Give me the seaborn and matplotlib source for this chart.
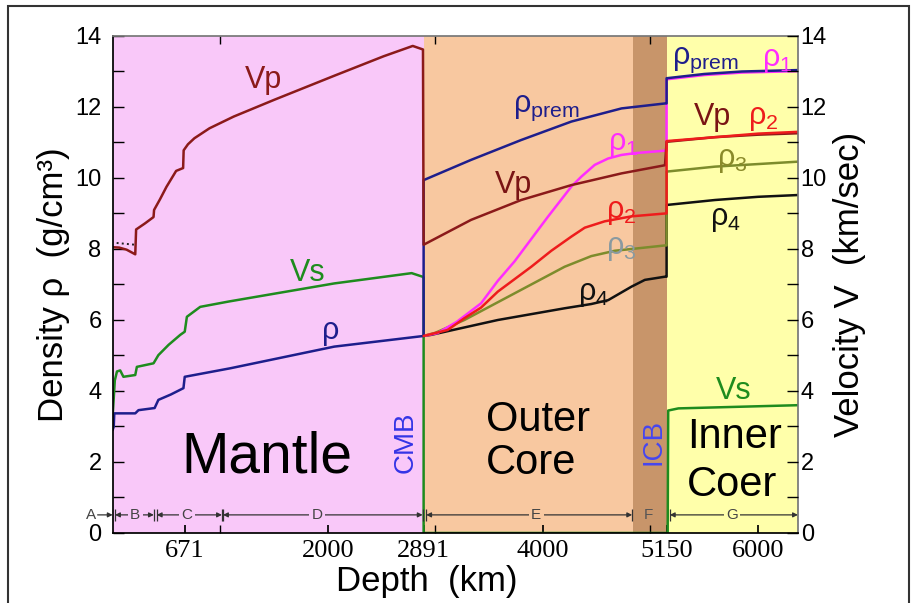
import matplotlib
matplotlib.use('Agg')
import matplotlib.pyplot as plt
import matplotlib.patches as mpatches
import pandas as pd
import seaborn as sns

# profiles, depth in km, density in g/cm3, velocity in km/s
vp_depth = [0, 60, 130, 210, 218, 300, 380, 385, 440, 500, 550, 590, 655, 660, 700, 760, 900,
            1125, 1500, 2060, 2520, 2790, 2885, 2891, 3332, 3798, 4265, 4731, 5135, 5150,
            5600, 6000, 6371]
vp_value = [8.05, 8.04, 7.98, 7.85, 8.55, 8.72, 8.9, 9.1, 9.4, 9.75, 10.0, 10.2, 10.28, 10.78,
            10.95, 11.12, 11.4, 11.73, 12.2, 12.88, 13.43, 13.72, 13.62, 8.12, 8.82, 9.38, 9.8,
            10.13, 10.36, 11.02, 11.15, 11.22, 11.26]

vs_depth = [0, 20, 40, 70, 100, 210, 225, 380, 425, 520, 628, 670, 690, 814, 1078, 2060, 2780,
            2880, 2891, 2891, 5160, 5165, 5260, 6371]
vs_value = [3.3, 4.3, 4.55, 4.58, 4.4, 4.45, 4.68, 4.78, 5.01, 5.3, 5.58, 5.67, 6.09, 6.37, 6.52,
            7.03, 7.32, 7.22, 7.2, 0.0, 0.0, 3.45, 3.51, 3.6]

rho_prem_depth = [0, 10, 15, 210, 240, 390, 425, 540, 658, 670, 1094, 2060, 2891, 2891, 3332,
                  3798, 4265, 4731, 5135, 5150, 5150, 5500, 5850, 6371]
rho_prem_value = [2.9, 3.0, 3.37, 3.37, 3.46, 3.52, 3.75, 3.9, 4.08, 4.4, 4.64, 5.25, 5.55, 9.94,
                  10.51, 11.07, 11.59, 11.96, 12.1, 12.1, 12.81, 12.93, 13.0, 13.04]

rho1_depth = [2891, 3020, 3200, 3425, 3580, 3736, 4047, 4265, 4358, 4482, 4607, 4731, 4855, 5135,
              5150, 5150, 5500, 5850, 6371]
rho1_value = [5.55, 5.63, 5.95, 6.47, 7.1, 7.65, 8.91, 9.76, 10.04, 10.37, 10.55, 10.65, 10.7,
              10.77, 10.77, 12.78, 12.9, 12.97, 13.01]

rho2_depth = [2891, 3115, 3270, 3425, 3581, 3892, 4078, 4265, 4389, 4575, 4824, 5135, 5150, 5150,
              5600, 6000, 6371]
rho2_value = [5.55, 5.72, 6.05, 6.35, 6.8, 7.5, 7.95, 8.35, 8.6, 8.78, 8.92, 9.0, 9.0, 11.04,
              11.15, 11.25, 11.3]

rho3_depth = [2891, 3000, 3270, 3736, 4202, 4450, 4668, 5135, 5150, 5150, 5600, 6371]
rho3_value = [5.55, 5.64, 6.0, 6.75, 7.5, 7.8, 7.95, 8.1, 8.1, 10.18, 10.32, 10.46]

rho4_depth = [2891, 2959, 3581, 4202, 4450, 4607, 4824, 4948, 5135, 5150, 5150, 5600, 6000, 6371]
rho4_value = [5.55, 5.58, 6.0, 6.33, 6.45, 6.56, 6.94, 7.13, 7.22, 7.22, 9.24, 9.38, 9.47, 9.52]

# dotted Vp branch near the surface
vp_alt_depth = [37, 208]
vp_alt_value = [8.17, 8.12]

zone_names = ['Mantle', 'Outer core', 'F', 'Inner core']
zone_edges = [0, 2891, 4840, 5150, 6371]
zone_colors = ['#f9c8f9', '#f8c8a0', '#c8956a', '#ffffaa']

x_tick_pos = [671, 2000, 2891, 4000, 5150, 6000]
x_tick_lab = ['671', '2000', '2891', '4000', '5150', '6000']

sns.set_theme(style='ticks')
plt.rcParams['font.family'] = ['Liberation Sans', 'DejaVu Sans']
plt.rcParams['mathtext.fontset'] = 'custom'
plt.rcParams['mathtext.rm'] = 'Liberation Sans'
plt.rcParams['mathtext.it'] = 'Liberation Sans:italic'
for k in ['text.color', 'axes.labelcolor', 'xtick.color', 'ytick.color', 'axes.edgecolor']:
    plt.rcParams[k] = 'black'

fig = plt.figure(figsize=(9.16, 6.03), dpi=100)
ax = fig.add_axes([0.123, 0.1161, 0.7481, 0.8242])

for i in range(len(zone_names)):
    ax.axvspan(zone_edges[i], zone_edges[i + 1], color=zone_colors[i], zorder=0, lw=0)

curves = [('Vs', vs_depth, vs_value), ('rho4', rho4_depth, rho4_value),
          ('rho3', rho3_depth, rho3_value), ('rho1', rho1_depth, rho1_value),
          ('rho_prem', rho_prem_depth, rho_prem_value), ('Vp', vp_depth, vp_value),
          ('rho2', rho2_depth, rho2_value)]
df = pd.concat([pd.DataFrame({'depth': d, 'value': v, 'curve': n}) for n, d, v in curves],
               ignore_index=True)
palette = {'Vp': '#8b1a1a', 'Vs': '#1e8c1e', 'rho_prem': '#1e1e8c', 'rho1': '#ff2cff',
           'rho2': '#ee1c1c', 'rho3': '#7d8c2c', 'rho4': '#111111'}

sns.lineplot(data=df, x='depth', y='value', hue='curve', hue_order=[c[0] for c in curves],
             palette=palette, sort=False, estimator=None, legend=False, lw=1.8, ax=ax)
sns.lineplot(x=vp_alt_depth, y=vp_alt_value, color='#222222', ls=':', lw=1.4, ax=ax)

ax.set_xlim(0, 6371)
ax.set_ylim(0, 14)
ax.set_yticks(range(0, 15, 2))
ax.set_yticks(range(1, 15, 2), minor=True)
ax.tick_params(axis='y', which='both', direction='in', length=8, width=1, labelsize=17, pad=8)
ax.set_xticks(x_tick_pos)
ax.set_xticklabels(x_tick_lab, fontfamily='Liberation Serif', fontsize=19)
ax.set_xticks([1000, 2000, 3000, 4000, 5000, 6000], minor=True)
ax.tick_params(axis='x', which='major', direction='in', length=6, top=False, pad=5)
ax.tick_params(axis='x', which='minor', direction='in', length=6, top=True, bottom=True)
ax.set_xlabel('Depth  (km)', fontsize=25, labelpad=2)
ax.xaxis.label.set_x(0.459)
ax.set_ylabel('Density ρ  (g/cm³)', fontsize=25, labelpad=4)
for s in ['top', 'right']:
    ax.spines[s].set_color('#777777')

ax2 = ax.twinx()
ax2.set_ylim(0, 14)
ax2.set_yticks(range(0, 15, 2))
ax2.set_yticks(range(1, 15, 2), minor=True)
ax2.tick_params(axis='y', which='both', direction='in', length=8, width=1, labelsize=17, pad=2)
ax2.set_ylabel('Velocity V  (km/sec)', fontsize=25, labelpad=4)
for s in ax2.spines.values():
    s.set_visible(False)

# region names
ax.text(1430, 2.14, 'Mantle', fontsize=41, ha='center', va='center')
ax.text(3472, 3.18, 'Outer', fontsize=30, ha='left', va='center')
ax.text(3472, 1.97, 'Core', fontsize=30, ha='left', va='center')
ax.text(5337, 2.70, 'Inner', fontsize=30, ha='left', va='center')
ax.text(5337, 1.35, 'Coer', fontsize=30, ha='left', va='center')
ax.text(2728, 2.56, 'CMB', fontsize=20, color='#3434e6', rotation=90, ha='center', va='center')
ax.text(5031, 2.56, 'ICB', fontsize=20, color='#4646f0', rotation=90, ha='center', va='center')

# curve labels
lab = dict(fontsize=22, ha='center', va='center')
ax.text(1402, 12.76, 'Vp', color='#8b1a1a', **lab)
ax.text(1812, 7.32, 'Vs', color='#1e8c1e', **lab)
ax.text(2029, 5.68, 'ρ', color='#1e1e8c', **lab)
ax.text(4032, 11.98, 'ρ$_\\mathrm{prem}$', color='#1e1e8c', **lab)
ax.text(3724, 9.8, 'Vp', color='#7a1414', **lab)
ax.text(4750, 10.95, 'ρ$_1$', color='#ff2cff', **lab)
ax.text(4731, 9.05, 'ρ$_2$', color='#ee1c1c', **lab)
ax.text(4731, 8.02, 'ρ$_3$', color='#8a9aa0', **lab)
ax.text(4470, 6.72, 'ρ$_4$', color='#111111', **lab)
ax.text(5514, 13.32, 'ρ$_\\mathrm{prem}$', color='#1e1e8c', **lab)
ax.text(6176, 13.32, 'ρ$_1$', color='#ff2cff', **lab)
ax.text(5580, 11.72, 'Vp', color='#7a1414', **lab)
ax.text(6046, 11.68, 'ρ$_2$', color='#ee1c1c', **lab)
ax.text(5757, 10.5, 'ρ$_3$', color='#8a8a2a', **lab)
ax.text(5701, 8.84, 'ρ$_4$', color='#111111', **lab)
ax.text(5776, 4.0, 'Vs', color='#1e8c1e', **lab)

# layer letters A-G
arrow_y = 0.51
spans = [('B', 22, 383, 209), ('C', 410, 1016, 690), ('D', 1026, 2882, 1902),
         ('E', 2915, 4830, 3938), ('G', 5180, 6371, 5758)]
for name, a, b, mid in spans:
    ax.annotate('', xy=(a, arrow_y), xytext=(b, arrow_y),
                arrowprops=dict(arrowstyle='<|-|>', color='#333333', lw=0.9,
                                mutation_scale=7, shrinkA=0, shrinkB=0))
    ax.vlines([a, b], arrow_y - 0.17, arrow_y + 0.17, color='#333333', lw=0.9)
    zc = zone_colors[0] if mid < 2891 else (zone_colors[1] if mid < 4840 else zone_colors[3])
    ax.text(mid, arrow_y, name, fontsize=11, color='#444444', ha='center', va='center',
            bbox=dict(boxstyle='square,pad=0.15', fc=zc, ec='none'))
ax.text(4979, arrow_y, 'F', fontsize=11, color='#555555', ha='center', va='center')
ax.annotate('', xy=(0, arrow_y), xytext=(-140, arrow_y), annotation_clip=False,
            arrowprops=dict(arrowstyle='-|>', color='#333333', lw=0.9, mutation_scale=7,
                            shrinkA=0, shrinkB=0))
ax.text(-200, arrow_y, 'A', fontsize=11, color='#444444', ha='center', va='center',
        clip_on=False)

fig.patches.append(mpatches.Rectangle((0.0087, -0.1), 0.9836, 1.09, transform=fig.transFigure,
                                      fill=False, edgecolor='#333333', lw=1.5))

fig.savefig('out.png', dpi=100)
